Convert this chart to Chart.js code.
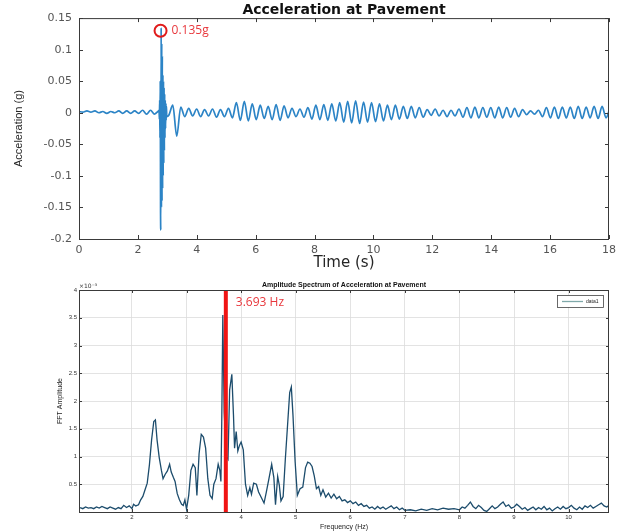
<!DOCTYPE html>
<html>
<head>
<meta charset="utf-8">
<script src="https://cdn.jsdelivr.net/npm/chart.js@4"></script>
<style>
    html, body { margin: 0; padding: 0; background: #fff; overflow: hidden; }
    #wrap { position: relative; width: 622px; height: 532px; }
    #acc  { position: absolute; left: 0; top: 0; }
    #fft  { position: absolute; left: 0; top: 272px; }
</style>
</head>
<body>
<div id="wrap">
    <canvas id="acc" width="622" height="272"></canvas>
    <canvas id="fft" width="622" height="260"></canvas>
</div>
<script>
// ---- time history (g), sampled in three pieces ----
const preT0 = 0,     preDt = 0.135;   // quiet part before the hit
const preG = [0.002, 0.001, 0.003, 0.001, 0.003, 0.0, 0.002, -0.001, 0.002, 0.0,
              0.003, -0.001, 0.003, -0.001, 0.003, -0.001, 0.004, -0.002, 0.004, -0.002, 0.003];

const hitT0 = 2.72,  hitDt = 0.01;    // the impact
const hitG = [0.004, -0.01, 0.02, -0.04, 0.05, -0.16, -0.186, 0.135, -0.15, 0.11,
              -0.14, 0.09, -0.12, 0.06, -0.10, 0.05, -0.08, 0.04, -0.06, 0.03,
              -0.04, 0.02, -0.025, 0.015, -0.012, 0.01, -0.006];

const postT0 = 3.05, postDt = 0.135;  // free vibration afterwards
const postG = [
    -0.004, 0.012, -0.037, 0.009, -0.006, 0.007, -0.005, 0.006, -0.006, 0.005,
    -0.005, 0.006, -0.007, 0.005, -0.006, 0.007, -0.008, 0.016, -0.012, 0.018,
    -0.013, 0.014, -0.011, 0.012, -0.009, 0.010, -0.011, 0.013, -0.012, 0.011,
    -0.008, 0.007, -0.006, 0.006, -0.007, 0.008, -0.010, 0.012, -0.011, 0.013,
    -0.012, 0.014, -0.013, 0.016, -0.015, 0.018, -0.016, 0.019, -0.017, 0.017,
    -0.015, 0.016, -0.014, 0.014, -0.013, 0.012, -0.011, 0.012, -0.010, 0.010,
    -0.009, 0.010, -0.008, 0.008, -0.007, 0.005, -0.004, 0.006, -0.005, 0.004,
    -0.006, 0.004, -0.005, 0.006, -0.007, 0.008, -0.008, 0.009, -0.008, 0.008,
    -0.007, 0.008, -0.008, 0.009, -0.008, 0.008, -0.007, 0.007, -0.006, 0.005,
    -0.003, 0.003, -0.002, 0.004, -0.006, 0.008, -0.008, 0.009, -0.009, 0.009,
    -0.008, 0.009, -0.009, 0.010, -0.009, 0.009, -0.008, 0.010, -0.009, 0.010,
    -0.008, 0.008,
];

const peakMark  = [2.77, 0.130];   // red circle
const peakLabel = '0.135g';

// ---- amplitude spectrum (x10^-3) ----
const fftFreq = [
    1.05, 1.10, 1.15, 1.20, 1.25, 1.30, 1.35, 1.40, 1.45, 1.50, 1.55, 1.60, 1.65, 1.70, 1.75, 1.80, 1.85, 1.90, 1.95, 2.00,
    2.03, 2.07, 2.12, 2.16, 2.20, 2.24, 2.28, 2.32, 2.36, 2.40, 2.43, 2.46, 2.50, 2.54, 2.57, 2.61, 2.65, 2.69, 2.72, 2.76,
    2.79, 2.83, 2.87, 2.91, 2.94, 2.97, 3.00, 3.04, 3.08, 3.12, 3.16, 3.19, 3.23, 3.27, 3.31, 3.35, 3.39, 3.43, 3.47, 3.50,
    3.54, 3.58, 3.61, 3.63, 3.645, 3.665, 3.69, 3.73, 3.76, 3.79, 3.83, 3.86, 3.88, 3.91, 3.94, 3.97, 4.00, 4.04, 4.08, 4.12,
    4.16, 4.19, 4.23, 4.28, 4.32, 4.37, 4.42, 4.46, 4.51, 4.56, 4.60, 4.63, 4.67, 4.70, 4.73, 4.77, 4.81, 4.85, 4.89, 4.92,
    4.95, 4.99, 5.03, 5.08, 5.13, 5.18, 5.22, 5.26, 5.30, 5.34, 5.38, 5.42, 5.46, 5.50, 5.55, 5.60, 5.65, 5.70, 5.75, 5.80,
    5.85, 5.90, 5.95, 6.00, 6.05, 6.10, 6.15, 6.20, 6.25, 6.30, 6.35, 6.40, 6.45, 6.50, 6.55, 6.60, 6.65, 6.70, 6.75, 6.80,
    6.85, 6.90, 6.95, 7.00, 7.10, 7.20, 7.30, 7.40, 7.50, 7.60, 7.70, 7.80, 7.90, 8.00, 8.05, 8.10, 8.15, 8.20, 8.25, 8.30,
    8.35, 8.40, 8.45, 8.50, 8.55, 8.60, 8.65, 8.70, 8.75, 8.80, 8.85, 8.90, 8.95, 9.00, 9.05, 9.10, 9.15, 9.20, 9.25, 9.30,
    9.35, 9.40, 9.45, 9.50, 9.55, 9.60, 9.65, 9.70, 9.75, 9.80, 9.85, 9.90, 9.95, 10.00, 10.05, 10.10, 10.15, 10.20, 10.25, 10.30,
    10.35, 10.40, 10.45, 10.50, 10.55, 10.60, 10.65, 10.70, 10.74,
];
const fftAmp = [
    0.08, 0.06, 0.09, 0.07, 0.08, 0.06, 0.09, 0.07, 0.10, 0.08, 0.06, 0.09, 0.07, 0.05, 0.08, 0.06, 0.12, 0.08, 0.11, 0.06,
    0.14, 0.11, 0.13, 0.22, 0.28, 0.40, 0.52, 0.85, 1.30, 1.63, 1.66, 1.30, 0.98, 0.75, 0.60, 0.68, 0.74, 0.86, 0.72, 0.62,
    0.55, 0.33, 0.22, 0.14, 0.12, 0.22, 0.05, 0.30, 0.75, 0.86, 0.80, 0.30, 1.05, 1.40, 1.35, 1.15, 0.60, 0.30, 0.24, 0.50,
    0.60, 0.86, 0.75, 0.55, 1.60, 3.55, 1.80, 1.00, 0.95, 2.20, 2.48, 1.75, 1.15, 1.45, 1.10, 1.20, 1.26, 1.12, 0.50, 0.30,
    0.44, 0.32, 0.52, 0.50, 0.36, 0.26, 0.16, 0.35, 0.60, 0.86, 0.62, 0.13, 0.64, 0.48, 0.20, 0.28, 0.95, 1.55, 2.15, 2.25,
    1.75, 0.90, 0.30, 0.42, 0.45, 0.80, 0.90, 0.88, 0.82, 0.65, 0.42, 0.46, 0.30, 0.40, 0.27, 0.34, 0.25, 0.32, 0.24, 0.28,
    0.20, 0.22, 0.17, 0.20, 0.15, 0.18, 0.12, 0.15, 0.10, 0.12, 0.07, 0.09, 0.05, 0.10, 0.06, 0.09, 0.05, 0.08, 0.11, 0.06,
    0.09, 0.04, 0.07, 0.03, 0.04, 0.02, 0.05, 0.03, 0.06, 0.04, 0.07, 0.05, 0.06, 0.04, 0.09, 0.07, 0.12, 0.18, 0.10, 0.06,
    0.12, 0.08, 0.03, 0.01, 0.06, 0.11, 0.06, 0.09, 0.14, 0.18, 0.10, 0.13, 0.07, 0.09, 0.14, 0.10, 0.05, 0.08, 0.03, 0.06,
    0.09, 0.04, 0.08, 0.05, 0.10, 0.04, 0.07, 0.02, 0.06, 0.09, 0.05, 0.10, 0.06, 0.08, 0.12, 0.07, 0.04, 0.09, 0.05, 0.11,
    0.08, 0.12, 0.07, 0.10, 0.13, 0.16, 0.11, 0.09, 0.12,
];

const markerFreq  = 3.72;
const markerLabel = '3.693 Hz';

const segment = (t0, dt, vals) => vals.map((v, i) => ({ x: t0 + i * dt, y: v }));
const accPoints = [
    ...segment(preT0, preDt, preG),
    ...segment(hitT0, hitDt, hitG),
    ...segment(postT0, postDt, postG),
];
const fftPoints = fftFreq.map((f, i) => ({ x: f, y: fftAmp[i] }));

// matlab-ish frame: full box with inward ticks
const frameBox = {
    id: 'frameBox',
    afterDatasetsDraw(chart, args, opts) {
        const { ctx, chartArea: a, scales: { x, y } } = chart;
        ctx.save();
        ctx.strokeStyle = opts.color;
        ctx.lineWidth = 1;
        ctx.strokeRect(a.left + 0.5, a.top + 0.5, a.width - 1, a.height);
        ctx.beginPath();
        x.ticks.forEach(t => {
            const px = Math.round(x.getPixelForValue(t.value)) + 0.5;
            ctx.moveTo(px, a.bottom); ctx.lineTo(px, a.bottom - opts.tick);
            ctx.moveTo(px, a.top);    ctx.lineTo(px, a.top + opts.tick);
        });
        y.ticks.forEach(t => {
            const py = Math.round(y.getPixelForValue(t.value)) + 0.5;
            ctx.moveTo(a.left, py);  ctx.lineTo(a.left + opts.tick, py);
            ctx.moveTo(a.right, py); ctx.lineTo(a.right - opts.tick, py);
        });
        ctx.stroke();
        ctx.restore();
    },
};

// free text placed from data coordinates
const notes = {
    id: 'notes',
    afterDraw(chart, args, opts) {
        const { ctx, scales: { x, y } } = chart;
        ctx.save();
        (opts.items || []).forEach(n => {
            ctx.font = n.font;
            ctx.fillStyle = n.color;
            ctx.textAlign = 'left';
            ctx.textBaseline = 'middle';
            ctx.fillText(n.text, x.getPixelForValue(n.x) + n.dx, y.getPixelForValue(n.y) + n.dy);
        });
        ctx.restore();
    },
};

// small boxed legend in the top right corner of the plot
const boxLegend = {
    id: 'boxLegend',
    afterDraw(chart, args, opts) {
        if (!opts.show) return;
        const { ctx, chartArea: a } = chart;
        const ds = chart.data.datasets[0];
        const w = 46, h = 12;
        const left = a.right - 6 - w, top = a.top + 5;
        ctx.save();
        ctx.fillStyle = '#fff';
        ctx.fillRect(left, top, w, h);
        ctx.strokeStyle = '#444';
        ctx.lineWidth = 0.8;
        ctx.strokeRect(left + 0.5, top + 0.5, w, h);
        ctx.strokeStyle = opts.lineColor;
        ctx.lineWidth = 1.3;
        ctx.beginPath();
        ctx.moveTo(left + 5, top + h / 2 + 0.5);
        ctx.lineTo(left + 26, top + h / 2 + 0.5);
        ctx.stroke();
        ctx.fillStyle = '#222';
        ctx.font = '5px "Liberation Sans", Arial, sans-serif';
        ctx.textBaseline = 'middle';
        ctx.fillText(ds.label, left + 29, top + h / 2 + 0.5);
        ctx.restore();
    },
};

Chart.register(frameBox, notes, boxLegend);

const RED = '#e8383d';

new Chart(document.getElementById('acc'), {
    type: 'line',
    data: {
        datasets: [
            {
                label: 'Acceleration',
                data: accPoints,
                borderColor: '#2c84c6',
                borderWidth: 1.7,
                pointRadius: 0,
                cubicInterpolationMode: 'monotone',
                order: 1,
            },
            {
                label: 'Peak',
                data: [{ x: peakMark[0], y: peakMark[1] }],
                showLine: false,
                pointRadius: 6,
                pointBorderWidth: 2,
                pointBorderColor: '#e01b1b',
                pointBackgroundColor: 'rgba(0,0,0,0)',
                order: 0,
            },
        ],
    },
    options: {
        responsive: false,
        animation: false,
        devicePixelRatio: 1,
        layout: { padding: { left: 0, right: 13, top: 0, bottom: 0 } },
        plugins: {
            legend: { display: false },
            tooltip: { enabled: false },
            title: {
                display: true,
                fullSize: false,
                text: 'Acceleration at Pavement',
                color: '#111',
                font: { family: '"DejaVu Sans", sans-serif', size: 14, weight: 'bold', lineHeight: 1.15 },
                padding: { top: 2, bottom: 0 },
            },
            frameBox: { color: '#3a3a3a', tick: 4 },
            notes: {
                items: [
                    { text: peakLabel, x: peakMark[0], y: peakMark[1], dx: 11, dy: 0,
                      font: '12px "Open Sans", sans-serif', color: RED },
                ],
            },
            boxLegend: { show: false },
        },
        scales: {
            x: {
                type: 'linear',
                min: 0, max: 18,
                grid: { display: false, drawTicks: false, tickLength: 0 },
                border: { display: false },
                ticks: { stepSize: 2, padding: 5, color: '#555',
                         font: { family: '"DejaVu Sans", sans-serif', size: 11 } },
                title: { display: true, text: 'Time (s)', color: '#262626',
                         font: { family: '"DejaVu Sans", sans-serif', size: 15 },
                         padding: { top: 0, bottom: 0 } },
                afterFit: s => { s.height = 33; },
            },
            y: {
                min: -0.2, max: 0.15,
                grid: { display: false, drawTicks: false, tickLength: 0 },
                border: { display: false },
                ticks: { stepSize: 0.05, padding: 7, color: '#555',
                         font: { family: '"DejaVu Sans", sans-serif', size: 11 },
                         callback: v => String(+v.toFixed(2)) },
                title: { display: true, text: 'Acceleration (g)', color: '#262626',
                         font: { family: '"Liberation Sans Narrow", "Arial Narrow", sans-serif', size: 11 },
                         padding: { top: 12, bottom: 0 } },
                afterFit: s => { s.width = 79; },
            },
        },
    },
});

new Chart(document.getElementById('fft'), {
    type: 'line',
    data: {
        datasets: [
            {
                label: 'data1',
                data: fftPoints,
                borderColor: '#1c4c6c',
                borderWidth: 1.3,
                pointRadius: 0,
                order: 1,
            },
            {
                label: 'marker',
                data: [{ x: markerFreq, y: 0 }, { x: markerFreq, y: 4 }],
                borderColor: '#f01414',
                borderWidth: 4,
                pointRadius: 0,
                order: 0,
            },
        ],
    },
    options: {
        responsive: false,
        animation: false,
        devicePixelRatio: 1,
        layout: { padding: { left: 0, right: 13, top: 0, bottom: 0 } },
        plugins: {
            legend: { display: false },
            tooltip: { enabled: false },
            title: {
                display: true,
                fullSize: false,
                text: 'Amplitude Spectrum of Acceleration at Pavement',
                color: '#111',
                font: { family: '"Liberation Sans", Arial, sans-serif', size: 7, weight: 'bold' },
                padding: { top: 9, bottom: 0.6 },
            },
            frameBox: { color: '#3a3a3a', tick: 3 },
            notes: {
                items: [
                    { text: markerLabel, x: markerFreq, y: 4, dx: 10, dy: 12.5,
                      font: '12px "Open Sans", sans-serif', color: RED },
                    { text: '\u00d710\u207b\u00b3', x: 1.03, y: 4, dx: 0, dy: -4,
                      font: '6px "DejaVu Sans", sans-serif', color: '#333' },
                ],
            },
            boxLegend: { show: true, lineColor: '#7fa9aa' },
        },
        scales: {
            x: {
                type: 'linear',
                min: 1.03, max: 10.74,
                grid: { color: '#dcdcdc', lineWidth: 0.8, drawTicks: false },
                border: { display: false },
                afterBuildTicks: s => { s.ticks = s.ticks.filter(t => Number.isInteger(t.value)); },
                ticks: { stepSize: 1, padding: 2, color: '#333',
                         font: { family: '"Liberation Sans", Arial, sans-serif', size: 6 } },
                title: { display: true, text: 'Frequency (Hz)', color: '#222',
                         font: { family: '"Liberation Sans", Arial, sans-serif', size: 7 },
                         padding: { top: 0, bottom: 1 } },
                afterFit: s => { s.height = 20; },
            },
            y: {
                min: 0, max: 4,
                grid: { color: '#dcdcdc', lineWidth: 0.8, drawTicks: false },
                border: { display: false },
                ticks: { stepSize: 0.5, padding: 2, color: '#333',
                         font: { family: '"Liberation Sans", Arial, sans-serif', size: 6 },
                         callback: v => v === 0 ? '' : v },
                title: { display: true, text: 'FFT Amplitude', color: '#222',
                         font: { family: '"Liberation Sans", Arial, sans-serif', size: 7 },
                         padding: { top: 56, bottom: 0 } },
                afterFit: s => { s.width = 79; },
            },
        },
    },
});
</script>
</body>
</html>
